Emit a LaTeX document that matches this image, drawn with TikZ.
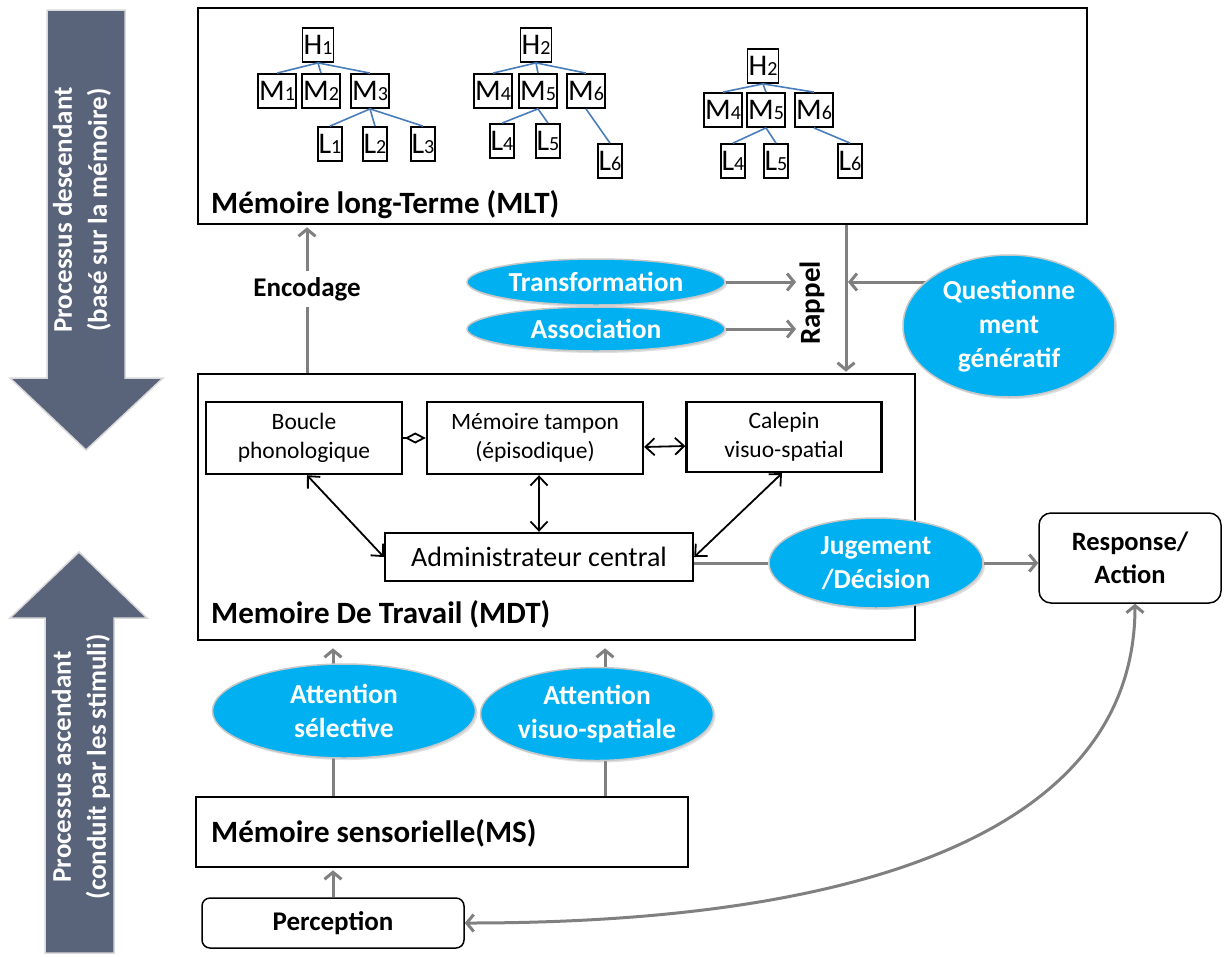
\documentclass[tikz,border=0pt]{standalone}
\usepackage{fontspec}
\setmainfont{Carlito}
\usetikzlibrary{arrows.meta,shapes.geometric,shadows}
\definecolor{slate}{RGB}{89,99,122}
\definecolor{sky}{RGB}{0,176,240}
\definecolor{garr}{RGB}{128,128,128}
\definecolor{tblue}{RGB}{74,126,187}
\pgfdeclarelayer{back}
\pgfdeclarelayer{bg}
\pgfsetlayers{back,bg,main}
\newcommand{\TL}[2]{#1{\fontsize{20}{20}\selectfont #2}}
\begin{document}
\begin{tikzpicture}[x=1pt,y=-1pt,
  bigbox/.style={draw, line width=2.6pt, rectangle, inner sep=0pt},
  wbox/.style={draw, line width=2.4pt, inner sep=0pt, align=center, font=\fontsize{23.5}{29}\selectfont},
  tnode/.style={draw, line width=1.8pt, inner xsep=1pt, inner ysep=0pt, minimum height=34pt, font=\fontsize{30}{30}\selectfont},
  tedge/.style={draw=tblue, line width=1.6pt},
  blob/.style={ellipse, fill=sky, draw=black!22, line width=1.5pt, inner sep=0pt, text=white, align=center, font=\bfseries\fontsize{27.5}{34}\selectfont, drop shadow={opacity=0.25, shadow xshift=2pt, shadow yshift=-2pt}},
  barb/.tip={Straight Barb[length=7pt,width=17pt]},
  sbarb/.tip={Straight Barb[length=9pt,width=17pt]},
  garrow/.style={draw=garr, line width=3pt, -barb},
  gline/.style={draw=garr, line width=3pt},
  barrow/.style={draw, line width=1.8pt, sbarb-sbarb},
  lbl/.style={font=\bfseries\fontsize{27}{33}\selectfont, align=center},
  ttl/.style={font=\bfseries\fontsize{31}{35}\selectfont, anchor=west, inner sep=0pt},
  bigtxt/.style={font=\bfseries\fontsize{27}{35}\selectfont, text=white, rotate=90, align=center},
  bigarrow/.style={fill=slate, draw=black!15, line width=1.5pt}
]
\useasboundingbox (0,0) rectangle (1228,956);
\begin{pgfonlayer}{back}
\fill[white] (0,0) rectangle (1228,956);
\end{pgfonlayer}

% big side arrows
\filldraw[bigarrow] (47,10) -- (125,10) -- (125,378) -- (163,378) -- (86,450) -- (10,378) -- (47,378) -- cycle;
\node[bigtxt] (pd) at (82,210) {Processus descendant\\(basé sur la mémoire)};
\filldraw[bigarrow] (79,552) -- (147,618) -- (114,618) -- (114,953) -- (45,953) -- (45,618) -- (10,618) -- cycle;
\node[bigtxt] (pa) at (81,767) {Processus ascendant\\(conduit par les stimuli)};

% MLT
\node[bigbox, minimum width=889pt, minimum height=216pt] (mlt) at (642.5,116) {};
\node[ttl] (mltt) at (211,205) {Mémoire long-Terme (MLT)};

% tree 1
\node[tnode] (H1) at (318,45) {\TL{H}{1}};
\node[tnode] (M1) at (277,91) {\TL{M}{1}};
\node[tnode] (M2) at (321,91) {\TL{M}{2}};
\node[tnode] (M3) at (370,91) {\TL{M}{3}};
\node[tnode] (L1) at (330,144) {\TL{L}{1}};
\node[tnode] (L2) at (375,144) {\TL{L}{2}};
\node[tnode] (L3) at (423,144) {\TL{L}{3}};
\foreach \c in {M1,M2,M3} \draw[tedge] (H1.south) -- (\c.north);
\foreach \c in {L1,L2,L3} \draw[tedge] (M3.south) -- (\c.north);
% tree 2
\node[tnode] (H2) at (536,45) {\TL{H}{2}};
\node[tnode] (M4) at (493,91) {\TL{M}{4}};
\node[tnode] (M5) at (538,91) {\TL{M}{5}};
\node[tnode] (M6) at (586,91) {\TL{M}{6}};
\node[tnode] (L4) at (502,141) {\TL{L}{4}};
\node[tnode] (L5) at (548,141) {\TL{L}{5}};
\node[tnode] (L6) at (610,161) {\TL{L}{6}};
\foreach \c in {M4,M5,M6} \draw[tedge] (H2.south) -- (\c.north);
\foreach \c in {L4,L5} \draw[tedge] (M5.south) -- (\c.north);
\draw[tedge] (M6.south) -- (L6.north);
% tree 3
\node[tnode] (Hb) at (763,66) {\TL{H}{2}};
\node[tnode] (Mb4) at (723,110) {\TL{M}{4}};
\node[tnode] (Mb5) at (766,110) {\TL{M}{5}};
\node[tnode] (Mb6) at (814,110) {\TL{M}{6}};
\node[tnode] (Lb4) at (733,161) {\TL{L}{4}};
\node[tnode] (Lb5) at (776,161) {\TL{L}{5}};
\node[tnode] (Lb6) at (850,161) {\TL{L}{6}};
\foreach \c in {Mb4,Mb5,Mb6} \draw[tedge] (Hb.south) -- (\c.north);
\foreach \c in {Lb4,Lb5} \draw[tedge] (Mb5.south) -- (\c.north);
\draw[tedge] (Mb6.south) -- (Lb6.north);

% MDT
\node[bigbox, minimum width=717pt, minimum height=266pt] (mdt) at (556.5,507) {};
\node[ttl] (mdtt) at (211,614) {Memoire De Travail (MDT)};
\node[wbox, minimum width=196pt, minimum height=72pt] (bouc) at (304,438) {Boucle\\phonologique};
\node[wbox, minimum width=216pt, minimum height=72pt] (tamp) at (535,438) {Mémoire tampon\\(épisodique)};
\node[wbox, minimum width=195pt, minimum height=70pt] (cal) at (784,437) {Calepin\\visuo-spatial};
\node[wbox, minimum width=308pt, minimum height=48pt, font=\fontsize{28}{30}\selectfont] (adm) at (539,557) {Administrateur central};
\draw[line width=1.8pt, -{Diamond[open,length=21pt,width=11pt]}] (bouc.east) -- (tamp.west);
\draw[barrow] ([yshift=-9pt]tamp.east) -- ([yshift=-9pt]cal.west);
\draw[barrow] ([xshift=3pt]bouc.south) -- (adm.west);
\draw[barrow] (adm.north |- tamp.south) -- (adm.north);
\draw[barrow] ([xshift=-2pt]cal.south) -- (adm.east);

% between MLT and MDT
\node[lbl, fill=white, inner ysep=6pt] (enc) at (307,289) {Encodage};
\begin{pgfonlayer}{bg}
\draw[garrow, shorten >=2pt] (enc |- mdt.north) -- (enc |- mlt.south);
\end{pgfonlayer}
\node[blob, minimum width=258pt, minimum height=46pt] (tr) at (596,282) {Transformation};
\node[blob, minimum width=258pt, minimum height=44pt] (as) at (596,329) {Association};
\node[lbl, rotate=90, font=\bfseries\fontsize{29}{33}\selectfont] (rap) at (812,303) {Rappel};
\coordinate (rx) at (846,300);
\coordinate (rxr) at (848,300);
\coordinate (rin) at (796,300);
\draw[garrow, shorten >=1pt] (rx |- mlt.south) -- (rx |- mdt.north);
\draw[garrow] (tr.east) -- (tr.east -| rin);
\draw[garrow] (as.east) -- (as.east -| rin);
\node[blob, minimum width=212pt, minimum height=142pt] (q) at (1009,326) {Questionne\\ment\\génératif};
\begin{pgfonlayer}{bg}
\draw[garrow] (q.center |- tr.east) -- (rxr |- tr.east);
\end{pgfonlayer}

% decision / response
\node[blob, minimum width=214pt, minimum height=90pt] (jug) at (876,563) {Jugement\\/Décision};
\node[draw, line width=1.5pt, rounded corners=12pt, minimum width=182pt, minimum height=90pt, lbl, font=\bfseries\fontsize{26.5}{33}\selectfont] (resp) at (1130,558) {Response/\\Action};
\begin{pgfonlayer}{bg}
\draw[gline] (adm.east |- jug.west) -- (jug.west);
\end{pgfonlayer}
\draw[garrow] (jug.east) -- (resp.west |- jug.east);

% attention + sensory
\node[bigbox, minimum width=492pt, minimum height=70pt] (ms) at (442,832) {};
\node[ttl] (mst) at (211,833) {Mémoire sensorielle(MS)};
\node[blob, minimum width=263pt, minimum height=94pt] (asel) at (344,711) {Attention\\sélective};
\node[blob, minimum width=233pt, minimum height=93pt] (avis) at (597,714) {Attention\\visuo-spatiale};
\coordinate (ax1) at (333,700);
\coordinate (ax2) at (605,700);
\begin{pgfonlayer}{bg}
\draw[garrow, shorten >=7pt] (ax1 |- ms.north) -- (ax1 |- mdt.south);
\draw[garrow, shorten >=7pt] (ax2 |- ms.north) -- (ax2 |- mdt.south);
\end{pgfonlayer}
\node[draw, line width=1.5pt, rounded corners=8pt, minimum width=262pt, minimum height=50pt, lbl] (perc) at (333,923) {Perception};
\draw[garrow, shorten >=2pt] (perc.north) -- (perc.north |- ms.south);
\draw[draw=garr, line width=3pt, barb-barb] ([xshift=5pt]resp.south) .. controls +(0,215) and +(425,0) .. (perc.east);
\end{tikzpicture}
\end{document}
